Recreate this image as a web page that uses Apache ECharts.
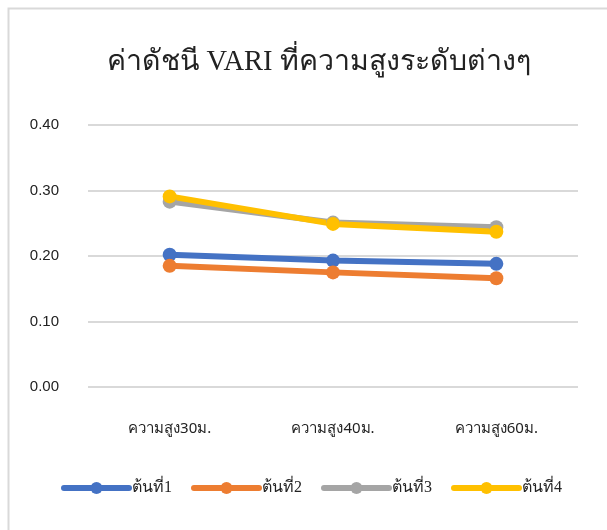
<!DOCTYPE html>
<html>
<head>
<meta charset="utf-8">
<script src="https://cdn.jsdelivr.net/npm/echarts@6/dist/echarts.min.js"></script>
<style>
  html, body { margin: 0; padding: 0; background: #fff; }
  #chart { width: 607px; height: 530px; }
</style>
</head>
<body>
<div id="chart"></div>
<script>
const categories = ["ความสูง30ม.", "ความสูง40ม.", "ความสูง60ม."];
const tree1 = [0.202, 0.193, 0.188];
const tree2 = [0.185, 0.175, 0.166];
const tree3 = [0.283, 0.251, 0.244];
const tree4 = [0.291, 0.249, 0.237];
const seriesNames = ["ต้นที่1", "ต้นที่2", "ต้นที่3", "ต้นที่4"];
const colors = ["#4472C4", "#ED7D31", "#A5A5A5", "#FFC000"];

const chart = echarts.init(document.getElementById("chart"), null, { renderer: "canvas" });

const mk = (name, data, color) => ({
  name, type: "line", data,
  symbol: "circle", symbolSize: 14,
  lineStyle: { width: 6, color, cap: "round" },
  itemStyle: { color },
  emphasis: { disabled: true }
});

chart.setOption({
  animation: false,
  color: colors,
  graphic: [{
    type: "rect", left: 6, top: 6,
    shape: { width: 640, height: 560 },
    style: { fill: "none", stroke: "#d9d9d9", lineWidth: 2 },
    silent: true
  }],
  title: {
    text: "ค่าดัชนี VARI ที่ความสูงระดับต่างๆ",
    left: 314, textAlign: "center", top: 43,
    textStyle: { fontFamily: "Liberation Serif, serif", fontSize: 28.5, fontWeight: "normal", color: "#222" }
  },
  grid: { left: 88, right: 29, top: 125, bottom: 143, containLabel: false },
  xAxis: {
    type: "category", data: categories, boundaryGap: true,
    axisLine: { show: false }, axisTick: { show: false },
    axisLabel: { fontFamily: "Noto Sans, sans-serif", fontSize: 15, color: "#222", margin: 34 }
  },
  yAxis: {
    type: "value", min: 0, max: 0.4, interval: 0.1,
    axisLine: { show: false }, axisTick: { show: false },
    axisLabel: { formatter: v => v.toFixed(2), fontFamily: "Liberation Sans, Arial, sans-serif", fontSize: 15, color: "#222", margin: 29 },
    splitLine: { lineStyle: { color: "#d9d9d9", width: 2 } }
  },
  legend: {
    top: 475, left: 56,
    itemWidth: 65, itemHeight: 15, itemGap: 19,
    lineStyle: { width: 6, cap: "round" },
    textStyle: { fontFamily: "Liberation Serif, serif", fontSize: 16, color: "#222", padding: [0, 0, 0, -2] },
    data: seriesNames.map(n => ({ name: n }))
  },
  series: [
    mk(seriesNames[0], tree1, colors[0]),
    mk(seriesNames[1], tree2, colors[1]),
    mk(seriesNames[2], tree3, colors[2]),
    mk(seriesNames[3], tree4, colors[3])
  ]
});
</script>
</body>
</html>
